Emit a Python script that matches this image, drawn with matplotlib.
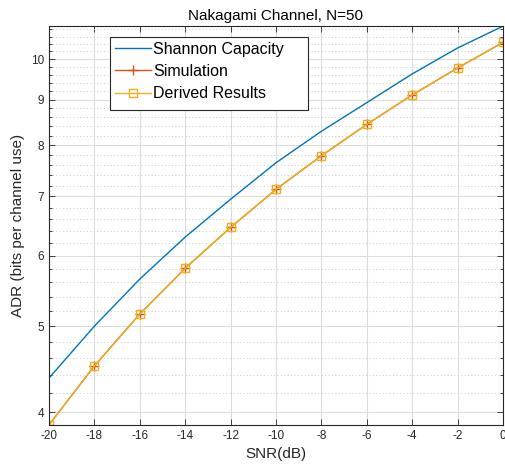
import matplotlib
matplotlib.use('Agg')
import matplotlib.pyplot as plt
import matplotlib.ticker as mticker
import matplotlib.patches as mpatches
import numpy as np

plt.rcParams['font.family'] = ['Liberation Sans', 'DejaVu Sans']
plt.rcParams['axes.unicode_minus'] = False

# === Data ===
snr_db = [-20, -18, -16, -14, -12, -10, -8, -6, -4, -2, 0]
shannon = [4.37, 5.00, 5.65, 6.30, 6.95, 7.64, 8.29, 8.93, 9.62, 10.29, 10.89]
simulation = [3.87, 4.51, 5.16, 5.81, 6.46, 7.13, 7.78, 8.44, 9.11, 9.77, 10.44]
derived = [3.87, 4.51, 5.16, 5.81, 6.46, 7.13, 7.78, 8.44, 9.11, 9.77, 10.44]

fig = plt.figure(figsize=(5.05, 4.69), dpi=100)
ax = fig.add_axes([0.097, 0.094, 0.899, 0.851])

ax.plot(snr_db, shannon, color='#0072BD', lw=1.0, label='Shannon Capacity')
ax.plot(snr_db, simulation, color='#D95319', lw=1.0, marker='+', ms=7,
        mew=1.0, label='Simulation')
ax.plot(snr_db, derived, color='#EDB120', lw=1.0, marker='s', ms=6,
        mfc='none', mew=1.0, label='Derived Results')

ax.set_yscale('log')
ax.set_xlim(-20, 0)
ax.set_ylim(3.87, 10.9)

ax.xaxis.set_major_locator(mticker.MultipleLocator(2))
ax.yaxis.set_major_locator(mticker.FixedLocator([4, 5, 6, 7, 8, 9, 10]))
ax.yaxis.set_major_formatter(mticker.FixedFormatter(['4', '5', '6', '7', '8', '9', '10']))
ax.yaxis.set_minor_locator(mticker.FixedLocator(np.arange(3.8, 10.95, 0.2)))
ax.yaxis.set_minor_formatter(mticker.NullFormatter())

ax.grid(True, which='major', color='#DCDCDC', lw=0.8, ls='-')
ax.grid(True, which='minor', axis='y', color='#C8C8C8', lw=0.7, ls=(0, (1, 2.5)))
ax.set_axisbelow(True)

ax.tick_params(which='both', direction='in', top=True, right=True,
               labelsize=8.5, colors='#262626', length=4, width=0.6)
ax.tick_params(which='minor', length=2.5)
for s in ax.spines.values():
    s.set_color('#262626')
    s.set_linewidth(0.8)

ax.set_xlabel('SNR(dB)', fontsize=11, color='#262626')
ax.set_ylabel('ADR (bits per channel use)', fontsize=11, color='#262626')
ax.set_title('Nakagami Channel, N=50', fontsize=11, color='#000000', pad=4)

# legend box (MATLAB style, wider than the text)
box = mpatches.Rectangle((0.1344, 0.789), 0.436, 0.1834, transform=ax.transAxes,
                         facecolor='white', edgecolor='#262626', lw=0.8, zorder=5)
ax.add_patch(box)
leg = ax.legend(loc='upper left', bbox_to_anchor=(0.134, 0.972), fontsize=11.5,
                frameon=False, handlelength=2.3, handletextpad=0.1, borderpad=0.3,
                labelspacing=0.45, borderaxespad=0)
leg.set_zorder(6)

fig.savefig('out.png', dpi=100, facecolor='white')
plt.close(fig)
